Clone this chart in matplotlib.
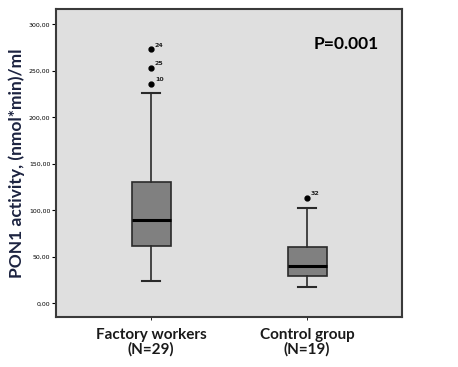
import matplotlib.pyplot as plt

# values
groups = ['Factory workers\n(N=29)', 'Control group\n(N=19)']
whislo = [24.0, 17.8]
q1 = [61.3, 29.7]
med = [89.2, 40.4]
q3 = [130.1, 60.9]
whishi = [226.5, 102.2]
outliers = [[273.1, 252.7, 236.1], [112.9]]
outlier_ids = [['24', '25', '10'], ['32']]
yticks = [0, 50, 100, 150, 200, 250, 300]

stats = []
for i in range(len(groups)):
    stats.append({'whislo': whislo[i], 'q1': q1[i], 'med': med[i], 'q3': q3[i],
                  'whishi': whishi[i], 'fliers': outliers[i]})

fig = plt.figure(figsize=(4.58, 3.67), dpi=100)
ax = fig.add_axes([0.1223, 0.1362, 0.7555, 0.8392])
ax.set_facecolor('#dfdfdf')

pos = [1, 2]
ax.bxp(stats, positions=pos, widths=0.25, patch_artist=True,
       boxprops=dict(facecolor='#808080', edgecolor='#2a2a2a', linewidth=1.2),
       medianprops=dict(color='black', linewidth=2.2),
       whiskerprops=dict(color='#2a2a2a', linewidth=1.2),
       capprops=dict(color='#2a2a2a', linewidth=1.5),
       capwidths=0.12,
       flierprops=dict(marker='o', markerfacecolor='black', markeredgecolor='black',
                       markersize=3.5))

for i, p in enumerate(pos):
    for v, lab in zip(outliers[i], outlier_ids[i]):
        ax.text(p + 0.025, v + 2, lab, fontsize=4.5, color='#222222',
                ha='left', va='bottom', fontweight='bold')

ax.set_xlim(0.391, 2.609)
ax.set_ylim(-14.7, 316.5)
ax.set_yticks(yticks)
ax.set_yticklabels([f'{t:.2f}'.replace('.', ',') for t in yticks], fontsize=4.5)
ax.set_xticks(pos)
ax.set_xticklabels(groups, fontsize=11, fontweight='bold', family='Lato',
                   color='#1a1a1a', linespacing=1.0)
ax.tick_params(axis='y', length=3, width=0.8, pad=1)
ax.tick_params(axis='x', length=2, width=0.6, pad=6)

for s in ax.spines.values():
    s.set_linewidth(1.5)
    s.set_color('#3a3a3a')

ax.set_ylabel('PON1 activity, (nmol*min)/ml', fontsize=12.5, fontweight='bold',
              family='Lato', color='#1c2340', labelpad=3)

ax.text(0.84, 0.885, 'P=0.001', transform=ax.transAxes, fontsize=12.5,
        fontweight='bold', ha='center', va='center', family='Lato')

fig.savefig('out.png', dpi=100)
